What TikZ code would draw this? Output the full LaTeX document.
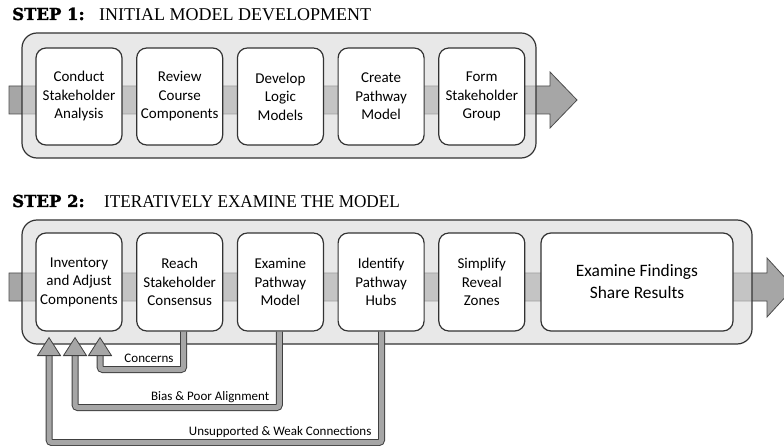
\documentclass[tikz,border=0pt]{standalone}
\usepackage{fontspec}
\setmainfont{Carlito}
\newfontfamily\titlefont{Liberation Serif}
\newfontfamily\titlefontb{Liberation Serif}[FakeStretch=0.955]
\newfontfamily\stepfont{DejaVu Serif Bold}[FakeBold=1.6]
\usetikzlibrary{positioning}

\begin{document}
\begin{tikzpicture}[x=1pt,y=-1pt,node distance=13.5pt,
			stepbox/.style={draw=black!80,line width=1.2pt,fill=white,rounded corners=10pt,minimum width=86pt,minimum height=97pt,inner sep=2pt,align=center,font=\fontsize{15}{18.5}\selectfont},
			outerbox/.style={draw=black!80,line width=1.2pt,fill=black!15,fill opacity=0.6,rounded corners=15pt},
			bigarrow/.style={draw=black!70,line width=0.8pt,fill=black!35},
			fbline/.style={draw=black!35,line width=5pt,rounded corners=3pt,preaction={draw=black!75,line width=7pt}},
			fbhead/.style={draw=black!75,line width=0.8pt,fill=black!35},
			fblabel/.style={inner sep=0pt,anchor=base east,font=\fontsize{13}{15}\selectfont},
			steplbl/.style={inner sep=0pt,anchor=base west,font=\stepfont\fontsize{16.5}{18}\selectfont},
			titletxt/.style={inner sep=0pt,anchor=base west,font=\titlefont\fontsize{18}{20}\selectfont}]
			\useasboundingbox (0,0) rectangle (784,446);
			\clip (0,0) rectangle (784,446);
			\node[steplbl] (s1) at (12,20) {STEP 1:};
			\node[titletxt] (s1txt) at (99,21) {INITIAL MODEL DEVELOPMENT};
			\filldraw[bigarrow] (9,86) -- (550,86) -- (550,72) -- (577,100) -- (550,128) -- (550,114) -- (9,114) -- cycle;
			\draw[outerbox] (22,33) rectangle (536,158);
			\node[stepbox] (csa) at (79,96.5) {Conduct\\Stakeholder\\Analysis};
			\node[stepbox,right=of csa] (rcc) {Review\\Course\\Components};
			\node[stepbox,right=of rcc] (dlm) {Develop\\Logic\\Models};
			\node[stepbox,right=of dlm] (cpm) {Create\\Pathway\\Model};
			\node[stepbox,right=of cpm] (fsg) {Form\\Stakeholder\\Group};
			\node[steplbl] (s2) at (12,207) {STEP 2:};
			\node[titletxt,font=\titlefontb\fontsize{18}{20}\selectfont] (s2txt) at (104,208) {ITERATIVELY EXAMINE THE MODEL};
			\filldraw[bigarrow] (9,273) -- (767,273) -- (767,258) -- (794,287.5) -- (767,317) -- (767,301) -- (9,301) -- cycle;
			\draw[outerbox] (22,220) rectangle (752,344);
			\node[stepbox,minimum height=98pt] (iac) at (79,282) {Inventory\\and Adjust\\Components};
			\node[stepbox,minimum height=98pt,right=of iac] (rsc) {Reach\\Stakeholder\\Consensus};
			\node[stepbox,minimum height=98pt,right=of rsc] (epm) {Examine\\Pathway\\Model};
			\node[stepbox,minimum height=98pt,right=of epm] (iph) {Identify\\Pathway\\Hubs};
			\node[stepbox,minimum height=98pt,right=of iph] (srz) {Simplify\\Reveal\\Zones};
			\node[stepbox,minimum height=98pt,minimum width=192pt,right=15pt of srz,font=\fontsize{17.4}{22}\selectfont] (efr) {Examine Findings\\Share Results};
			\coordinate (h1) at ([xshift=21pt,yshift=-6pt]iac.south);
			\coordinate (h2) at ([xshift=-4pt,yshift=-6pt]iac.south);
			\coordinate (h3) at ([xshift=-30pt,yshift=-6pt]iac.south);
			\draw[fbline] ([xshift=4pt]rsc.south) -- ++(0,38) coordinate (k1) -| ([yshift=-18pt]h1);
			\draw[fbline] ([xshift=-1pt]epm.south) -- ++(0,76) coordinate (k2) -| ([yshift=-18pt]h2);
			\draw[fbline] ([xshift=0.5pt]iph.south) -- ++(0,111) coordinate (k3) -| ([yshift=-18pt]h3);
			\filldraw[fbhead] (h1) -- ++(11.5,18) -- ++(-23,0) -- cycle;
			\filldraw[fbhead] (h2) -- ++(11.5,18) -- ++(-23,0) -- cycle;
			\filldraw[fbhead] (h3) -- ++(11.5,18) -- ++(-23,0) -- cycle;
			\node[fblabel] at ([xshift=-10pt,yshift=7pt]k1) {Concerns};
			\node[fblabel] at ([xshift=-10pt,yshift=7pt]k2) {Bias \& Poor Alignment};
			\node[fblabel] at ([xshift=-10pt,yshift=7pt]k3) {Unsupported \& Weak Connections};
		\end{tikzpicture}
\end{document}
